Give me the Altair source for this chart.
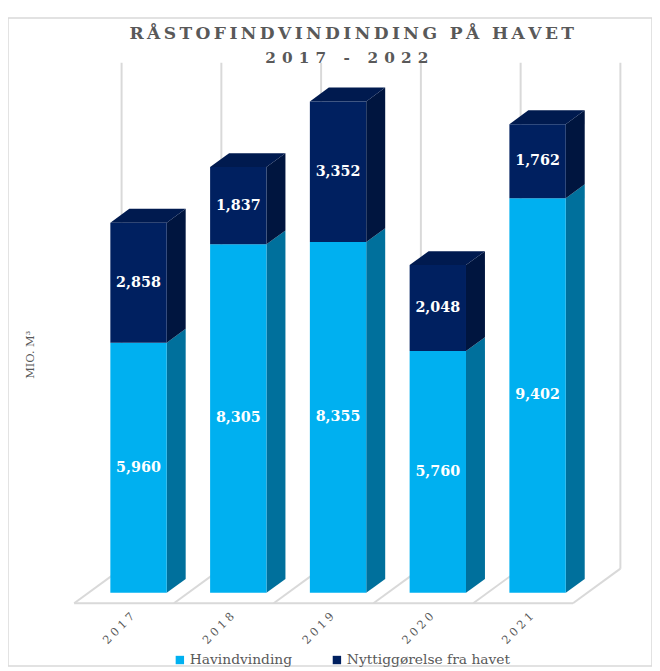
import altair as alt
import pandas as pd

# ---------------- data ----------------
years = ["2017", "2018", "2019", "2020", "2021"]
havindvinding = [5960, 8305, 8355, 5760, 9402]
nyttiggorelse = [2858, 1837, 3352, 2048, 1762]
series = ["Havindvinding", "Nyttiggørelse fra havet"]

title_line1 = "RÅSTOFINDVINDINDING PÅ HAVET"
title_line2 = "2017 - 2022"
y_title = "MIO. M³"

# ---------------- geometry / style ----------------
W, H = 652, 656
PX_U = 101.0          # px per category unit
PX_V = 0.0425         # px per value unit
X0_PX = 67.0          # view x of category 0 (front floor edge)
Y0_PX = 592.5         # view y of value 0 (front floor edge)
DEPTH_PX = (48.0, 35.0)
DU = DEPTH_PX[0] / PX_U
DV = DEPTH_PX[1] / PX_V
BAR_L, BAR_R = 0.22, 0.785
D_FRONT, D_BACK = 0.3, 0.7
WALL_V = 12050

x_dom = [-X0_PX / PX_U, (W - X0_PX) / PX_U]
y_dom = [(Y0_PX - H) / PX_V, Y0_PX / PX_V]
xs = alt.Scale(domain=x_dom, nice=False, zero=False)
ys = alt.Scale(domain=y_dom, nice=False, zero=False)

C_LIGHT, C_LIGHT_SIDE = "#00b0f0", "#00709c"
C_DARK, C_DARK_SIDE, C_DARK_TOP = "#002060", "#00153f", "#001a4f"
GRID = "#d9d9d9"
TXT = "#595959"

thin = "\u2009"

# ---------------- derived tables ----------------
fronts, sides, tops, labels = [], [], [], []
for k, yr in enumerate(years):
    segs = [(series[0], 0, havindvinding[k]),
            (series[1], havindvinding[k], havindvinding[k] + nyttiggorelse[k])]
    for name, v0, v1 in segs:
        fronts.append(dict(year=yr, serie=name,
                           x=k + BAR_L + D_FRONT * DU, x2=k + BAR_R + D_FRONT * DU,
                           y=v0 + D_FRONT * DV, y2=v1 + D_FRONT * DV))
        labels.append(dict(serie=name, val=v1 - v0,
                           x=k + (BAR_L + BAR_R) / 2 + D_FRONT * DU,
                           y=(v0 + v1) / 2 + D_FRONT * DV))
        for d in (D_FRONT, D_BACK):
            sides.append(dict(id=f"{yr}-{name}", serie=name,
                              x=k + BAR_R + d * DU, y=v0 + d * DV, y2=v1 + d * DV))
    top = havindvinding[k] + nyttiggorelse[k]
    for d in (D_FRONT, D_BACK):
        tops.append(dict(id=yr, y=top + d * DV,
                         x=k + BAR_L + d * DU, x2=k + BAR_R + d * DU))

df_front = pd.DataFrame(fronts)
df_side = pd.DataFrame(sides)
df_top = pd.DataFrame(tops)
df_lab = pd.DataFrame(labels)

n = len(years)
df_wall = pd.DataFrame([dict(x=k + DU, y=DV, y2=WALL_V + DV) for k in range(n + 1)])
floor = [dict(x=k, y=0, x2=k + DU, y2=DV) for k in range(n + 1)]
floor.append(dict(x=0, y=0, x2=n, y2=0))
df_floor = pd.DataFrame(floor)
df_years = pd.DataFrame(dict(x=[k + 0.5 for k in range(n)], y=[0] * n,
                             t=[(thin + "\u200a").join(list(y)) for y in years]))

# ---------------- layers ----------------
wall = alt.Chart(df_wall).mark_rule(color=GRID, strokeWidth=2).encode(
    x=alt.X("x:Q", scale=xs, axis=None),
    y=alt.Y("y:Q", scale=ys, axis=None), y2="y2:Q")

floor_l = alt.Chart(df_floor).mark_rule(color=GRID, strokeWidth=2).encode(
    x=alt.X("x:Q", scale=xs, axis=None), x2="x2:Q",
    y=alt.Y("y:Q", scale=ys, axis=None), y2="y2:Q")

side_light = alt.Chart(df_side).transform_filter(
    alt.datum.serie == series[0]).mark_area(orient="vertical", color=C_LIGHT_SIDE).encode(
    x=alt.X("x:Q", scale=xs, axis=None),
    y=alt.Y("y:Q", scale=ys, axis=None), y2="y2:Q", detail="id:N")

side_dark = alt.Chart(df_side).transform_filter(
    alt.datum.serie == series[1]).mark_area(orient="vertical", color=C_DARK_SIDE).encode(
    x=alt.X("x:Q", scale=xs, axis=None),
    y=alt.Y("y:Q", scale=ys, axis=None), y2="y2:Q", detail="id:N")

top_face = alt.Chart(df_top).mark_area(orient="horizontal", color=C_DARK_TOP).encode(
    y=alt.Y("y:Q", scale=ys, axis=None),
    x=alt.X("x:Q", scale=xs, axis=None), x2="x2:Q", detail="id:N")

front = alt.Chart(df_front).mark_rect().encode(
    x=alt.X("x:Q", scale=xs, axis=None), x2="x2:Q",
    y=alt.Y("y:Q", scale=ys, axis=None), y2="y2:Q",
    color=alt.Color("serie:N",
                    scale=alt.Scale(domain=series, range=[C_LIGHT, C_DARK]),
                    legend=alt.Legend(title=None, orient="none", direction="horizontal",
                                      legendX=167, legendY=643, padding=0,
                                      symbolType="square", symbolSize=72,
                                      symbolStrokeWidth=0, labelOffset=3,
                                      columnPadding=38,
                                      labelFont="DejaVu Serif",
                                      labelFontSize=14, labelColor=TXT,
                                      labelLimit=400)))

vals = alt.Chart(df_lab).mark_text(color="white", font="DejaVu Serif", fontWeight="bold",
                                   fontSize=14.5, baseline="middle").encode(
    x=alt.X("x:Q", scale=xs, axis=None),
    y=alt.Y("y:Q", scale=ys, axis=None),
    text=alt.Text("val:Q", format=","))

yr_lab = alt.Chart(df_years).mark_text(color=TXT, font="DejaVu Serif", fontSize=11.5,
                                       angle=315, align="center", baseline="middle",
                                       xOffset=-5, yOffset=26).encode(
    x=alt.X("x:Q", scale=xs, axis=None),
    y=alt.Y("y:Q", scale=ys, axis=None),
    text="t:N")

t1 = alt.Chart(pd.DataFrame(dict(t=[thin.join(list(title_line1))]))).mark_text(
    color=TXT, font="DejaVu Serif", fontWeight="bold", fontSize=17.3,
    align="center", baseline="alphabetic").encode(
    x=alt.value(348), y=alt.value(21), text="t:N")
t2 = alt.Chart(pd.DataFrame(dict(t=[(thin + thin).join(list(title_line2))]))).mark_text(
    color=TXT, font="DejaVu Serif", fontWeight="bold", fontSize=15.5,
    align="center", baseline="alphabetic").encode(
    x=alt.value(343), y=alt.value(46), text="t:N")
yt = alt.Chart(pd.DataFrame(dict(t=[y_title]))).mark_text(
    color=TXT, font="DejaVu Serif", fontSize=11.5, angle=270,
    align="center", baseline="middle").encode(
    x=alt.value(23), y=alt.value(341), text="t:N")

chart = alt.layer(wall, floor_l, side_light, side_dark, top_face, front, vals,
                  yr_lab, t1, t2, yt).properties(
    width=W, height=H, autosize=alt.AutoSizeParams(type="none"),
    padding={"left": 0, "top": 6, "right": 0, "bottom": 0},
    background="white",
).configure_view(stroke=GRID, strokeWidth=1.5)

chart.save("out.html", embed_options={"renderer": "svg", "actions": False})
